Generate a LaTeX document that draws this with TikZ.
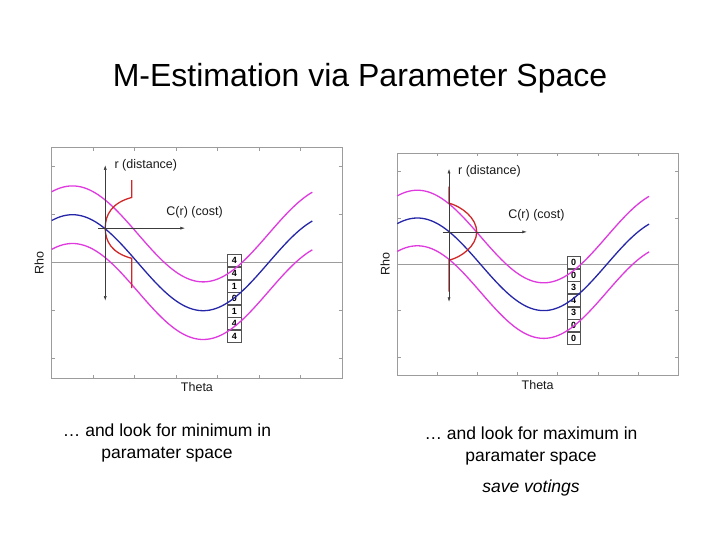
\documentclass[tikz,border=0pt]{standalone}
\usepackage{fontspec}
\setmainfont{Liberation Sans}
\usepackage{tikz}
\usetikzlibrary{arrows.meta}
\usetikzlibrary{positioning}
\definecolor{meink}{HTML}{1A1A1A}
\definecolor{megray}{HTML}{9C9C9C}
\definecolor{meblue}{HTML}{2626A8}
\definecolor{memagenta}{HTML}{DE3ADE}
\definecolor{mered}{HTML}{D02828}
\definecolor{mearrowink}{HTML}{3C3C3C}
\tikzset{
  meframe/.style={draw=megray, line width=0.8pt},
  metick/.style={draw=megray, line width=0.6pt},
  mezero/.style={draw=megray, line width=0.8pt},
  mecurve/.style={line width=1.3pt, domain=0:6.28, samples=90, smooth},
  mecost/.style={draw=mered, line width=1.3pt},
  mearrow/.style={-{Latex[length=4.5pt, width=3pt]}, draw=mearrowink,
    line width=0.5pt},
  mebiarrow/.style={mearrow,
    {Latex[length=4.5pt, width=3pt]}-{Latex[length=4.5pt, width=3pt]}},
  mevote/.style={
    draw=meink!75, fill=white, minimum width=13.3pt, minimum height=12pt,
    inner sep=0pt, line width=0.6pt,
    font=\fontsize{9}{9}\selectfont\bfseries},
  melabel/.style={font=\fontsize{12.5}{14}\selectfont, text=meink},
  meaxis/.style={font=\fontsize{12.5}{14}\selectfont, text=meink},
  metitle/.style={font=\fontsize{32}{36}\selectfont, text=black},
  menote/.style={font=\fontsize{17.5}{22}\selectfont, text=black,
    align=center},
}

\begin{document}
\begin{tikzpicture}[x=1pt, y=-1pt]
\useasboundingbox (0,0) rectangle (720,540);

% Header.
\node[metitle] (title) at (360, 78) {M-Estimation via Parameter Space};

% Left panel: cost accumulated, look for the minimum.
\begin{scope}[shift={(51.7pt,-262.7pt)}, x=41.5pt, y=48pt]
  \draw[meframe] (0,-2.4) rectangle (7,2.4);
  \foreach \t in {1,...,6} {
    \draw[metick] (\t,-2.4) -- ++(0,0.07);
    \draw[metick] (\t,2.4) -- ++(0,-0.07);
  }
  \foreach \r in {-2,...,2} {
    \draw[metick] (0,\r) -- ++(0.08,0);
    \draw[metick] (7,\r) -- ++(-0.08,0);
  }
  \draw[mezero] (0,0) -- (7,0);
  \node[mevote] (lv1) at (4.4,0.04) {4};
  \node[mevote, below=0pt of lv1] (lv2) {4};
  \node[mevote, below=0pt of lv2] (lv3) {1};
  \node[mevote, below=0pt of lv3] (lv4) {0};
  \node[mevote, below=0pt of lv4] (lv5) {1};
  \node[mevote, below=0pt of lv5] (lv6) {4};
  \node[mevote, below=0pt of lv6] (lv7) {4};
  \draw[mecurve, draw=memagenta]
    plot (\x, {cos(deg(2*pi*(\x-0.5)/6.3)) + 0.6});
  \draw[mecurve, draw=meblue]
    plot (\x, {cos(deg(2*pi*(\x-0.5)/6.3))});
  \draw[mecurve, draw=memagenta]
    plot (\x, {cos(deg(2*pi*(\x-0.5)/6.3)) - 0.6});
  \draw[mecost] (1.93,1.72) -- (1.93,1.36)
    .. controls (1.45,1.25) and (1.29,1.0) .. (1.29,0.72)
    .. controls (1.29,0.44) and (1.45,0.2) .. (1.93,0.09)
    -- (1.93,-0.53);
  \coordinate (lrtop) at (1.29,2.03);
  \coordinate (lrbot) at (1.29,-0.79);
  \coordinate (lcfrom) at (1.12,0.72);
  \coordinate (lcto) at (3.21,0.72);
  \draw[mebiarrow] (lrbot) -- (lrtop);
  \draw[mearrow] (lcfrom) -- (lcto);
  \node[melabel, anchor=west] (ldist) at (1.43,2.02) {r (distance)};
  \node[melabel, anchor=west] (lcost) at (2.68,1.06) {C(r) (cost)};
  \node[meaxis, rotate=90] (lrho) at (-0.3,0) {Rho};
  \node[meaxis] (ltheta) at (3.5,-2.6) {Theta};
\end{scope}

% Right panel: votes collected, look for the maximum.
\begin{scope}[shift={(397.3pt,-264.3pt)}, x=40.1pt, y=46.3pt]
  \draw[meframe] (0,-2.4) rectangle (7,2.4);
  \foreach \t in {1,...,6} {
    \draw[metick] (\t,-2.4) -- ++(0,0.07);
    \draw[metick] (\t,2.4) -- ++(0,-0.07);
  }
  \foreach \r in {-2,...,2} {
    \draw[metick] (0,\r) -- ++(0.08,0);
    \draw[metick] (7,\r) -- ++(-0.08,0);
  }
  \draw[mezero] (0,0) -- (7,0);
  \node[mevote] (rv1) at (4.4,0.04) {0};
  \node[mevote, below=0pt of rv1] (rv2) {0};
  \node[mevote, below=0pt of rv2] (rv3) {3};
  \node[mevote, below=0pt of rv3] (rv4) {4};
  \node[mevote, below=0pt of rv4] (rv5) {3};
  \node[mevote, below=0pt of rv5] (rv6) {0};
  \node[mevote, below=0pt of rv6] (rv7) {0};
  \draw[mecurve, draw=memagenta]
    plot (\x, {cos(deg(2*pi*(\x-0.5)/6.3)) + 0.6});
  \draw[mecurve, draw=meblue]
    plot (\x, {cos(deg(2*pi*(\x-0.5)/6.3))});
  \draw[mecurve, draw=memagenta]
    plot (\x, {cos(deg(2*pi*(\x-0.5)/6.3)) - 0.6});
  \draw[mecost] (1.29,1.68) -- (1.29,1.32)
    .. controls (1.6,1.25) and (1.98,1.0) .. (1.98,0.70)
    .. controls (1.98,0.4) and (1.6,0.15) .. (1.29,0.09)
    -- (1.29,-0.59);
  \coordinate (rrtop) at (1.29,2.06);
  \coordinate (rrbot) at (1.29,-0.81);
  \coordinate (rcfrom) at (1.13,0.70);
  \coordinate (rcto) at (3.23,0.70);
  \draw[mebiarrow] (rrbot) -- (rrtop);
  \draw[mearrow] (rcfrom) -- (rcto);
  \node[melabel, anchor=west] (rdist) at (1.43,2.02) {r (distance)};
  \node[melabel, anchor=west] (rcost) at (2.68,1.06) {C(r) (cost)};
  \node[meaxis, rotate=90] (rrho) at (-0.3,0) {Rho};
  \node[meaxis] (rtheta) at (3.5,-2.6) {Theta};
\end{scope}

% Captions.
\node[menote] (lnote) at (167, 443)
  {\ldots{} and look for minimum in\\paramater space};
\node[menote] (rnote) at (531, 446)
  {\ldots{} and look for maximum in\\paramater space};
\node[menote, font=\fontsize{17.5}{22}\selectfont\itshape] (rsave)
  at (531, 488) {save votings};

\end{tikzpicture}
\end{document}
